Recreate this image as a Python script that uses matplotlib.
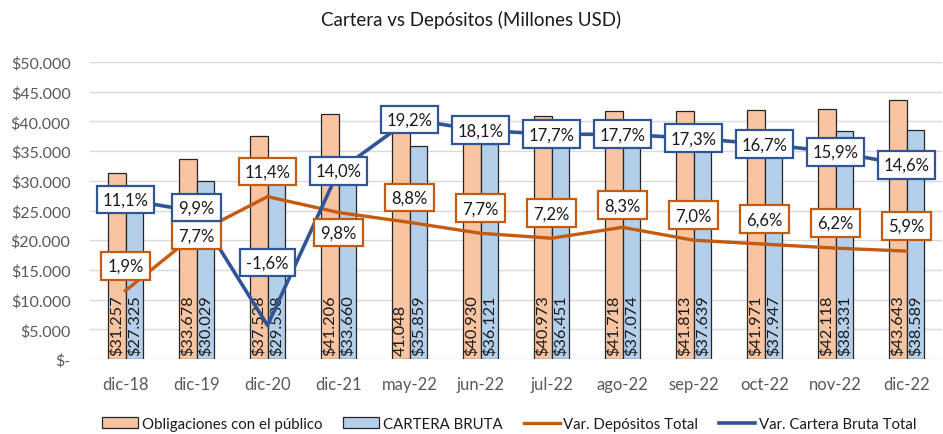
import numpy as np
import matplotlib.pyplot as plt

plt.rcParams['font.family'] = ['Lato', 'DejaVu Sans']

# ── DATA ────────────────────────────────────────────────────────────────────────
cats     = ['dic-18', 'dic-19', 'dic-20', 'dic-21', 'may-22', 'jun-22',
            'jul-22', 'ago-22', 'sep-22', 'oct-22', 'nov-22', 'dic-22']
oblig    = [31257, 33678, 37528, 41206, 41048, 40930,
            40973, 41718, 41813, 41971, 42118, 43643]
cartera  = [27325, 30029, 29538, 33660, 35859, 36121,
            36451, 37074, 37639, 37947, 38331, 38589]
var_dep  = [1.9, 7.7, 11.4, 9.8, 8.8, 7.7, 7.2, 8.3, 7.0, 6.6, 6.2, 5.9]
var_cart = [11.1, 9.9, -1.6, 14.0, 19.2, 18.1, 17.7, 17.7, 17.3, 16.7, 15.9, 14.6]
oblig_no_dollar = {4}   # may-22 obligaciones label shows no "$" in the source

# label offsets (pixels) -- as placed in the original
dep_dy  = [25, -2, 25, -20, 25, 25, 25, 22, 25, 25, 25, 25]
cart_dy = [0, 4, 63, 0, 0, 0, 0, 0, 0, 0, 0, 0]

C_OBL   = '#F8C4A2'
C_CAR   = '#B4CFEA'
C_DEP   = '#C55A11'
C_CART  = '#2F5597'
C_TXT   = '#595959'

def money(v, dollar=True):
    s = f'{v:,}'.replace(',', '.')
    return '$' + s if dollar else s

def pct(v):
    return f'{v:.1f}%'.replace('.', ',')

# ── PLOT ────────────────────────────────────────────────────────────────────────
fig = plt.figure(figsize=(9.43, 4.35), dpi=100)
ax1 = fig.add_axes([90 / 943, 1 - 360 / 435, 852 / 943, 297 / 435])

x = np.arange(len(cats))
w = 0.25
b1 = ax1.bar(x - w / 2, oblig, width=w, color=C_OBL, edgecolor='#262626',
             linewidth=0.9, label='Obligaciones con el público', zorder=2)
b2 = ax1.bar(x + w / 2, cartera, width=w, color=C_CAR, edgecolor='#262626',
             linewidth=0.9, label='CARTERA BRUTA', zorder=2)

for i in range(len(cats)):
    ax1.text(x[i] - w / 2, 600, money(oblig[i], i not in oblig_no_dollar),
             rotation=90, ha='center', va='bottom', fontsize=11.8,
             color='#1a1a1a', zorder=3)
    ax1.text(x[i] + w / 2, 600, money(cartera[i]), rotation=90, ha='center',
             va='bottom', fontsize=11.8, color='#1a1a1a', zorder=3)

ax1.set_xlim(-0.5, len(cats) - 0.5)
ax1.set_ylim(0, 50000)
ax1.set_yticks(np.arange(0, 50001, 5000))
ax1.set_yticklabels(['$-'] + [f'${v:,}'.replace(',', '.')
                              for v in range(5000, 50001, 5000)])
ax1.set_xticks(x)
ax1.set_xticklabels(cats)
ax1.tick_params(length=0, colors=C_TXT, labelsize=11.5)
ax1.tick_params(axis='x', pad=12, labelsize=12)
ax1.tick_params(axis='y', pad=14)
ax1.grid(axis='y', color='#D9D9D9', linewidth=1, zorder=0)
ax1.set_axisbelow(True)
for s in ax1.spines.values():
    s.set_visible(False)

# secondary axis for the growth rates (hidden)
ax2 = ax1.twinx()
ax2.set_ylim(-5, 25)
ax2.axis('off')
l1, = ax2.plot(x, var_dep, color=C_DEP, linewidth=2.4,
               label='Var. Depósitos Total', zorder=4)
l2, = ax2.plot(x, var_cart, color=C_CART, linewidth=2.6,
               label='Var. Cartera Bruta Total', zorder=4)

for i in range(len(cats)):
    ax2.annotate(pct(var_dep[i]), (x[i], var_dep[i]), xytext=(0, dep_dy[i]),
                 textcoords='offset pixels', ha='center', va='center',
                 fontsize=12, color='#1a1a1a', zorder=5,
                 bbox=dict(boxstyle='square,pad=0.35', fc='white',
                           ec=C_DEP, lw=1.6))
    ax2.annotate(pct(var_cart[i]), (x[i], var_cart[i]), xytext=(0, cart_dy[i]),
                 textcoords='offset pixels', ha='center', va='center',
                 fontsize=12, color='#1a1a1a', zorder=5,
                 bbox=dict(boxstyle='square,pad=0.35', fc='white',
                           ec=C_CART, lw=1.6))

fig.text(0.5, 0.955, 'Cartera vs Depósitos (Millones USD)', ha='center',
         va='center', fontsize=13.5, color='#1a1a1a')

fig.legend(handles=[b1, b2, l1, l2], loc='center', ncol=4, frameon=False,
           bbox_to_anchor=(0.54, 0.023), fontsize=10.8, handlelength=2.4,
           handletextpad=0.25, columnspacing=1.4, labelcolor='#1a1a1a')

fig.savefig('out.png', dpi=100)
